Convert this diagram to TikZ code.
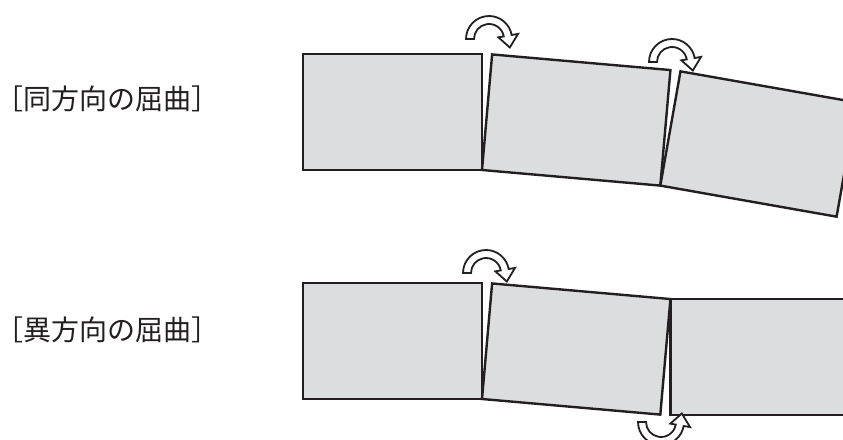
\documentclass[tikz,border=0pt]{standalone}
\usepackage{fontspec}
\newfontfamily\jpfont{Noto Sans CJK JP}
\definecolor{panelgray}{RGB}{220,221,223}
\definecolor{inkblack}{RGB}{35,31,32}

\begin{document}
\begin{tikzpicture}[
  x=1pt,y=1pt,
  panel/.style={draw=inkblack,fill=panelgray,line width=2.4pt,minimum width=179pt,minimum height=116pt,inner sep=0pt,outer sep=0pt},
  caption/.style={font=\jpfont\fontsize{28}{34}\selectfont,text=inkblack,inner sep=0pt},
  bendarrow/.pic={
    \filldraw[draw=inkblack,fill=white,line width=1.8pt]
      (-23,0) arc[start angle=180,end angle=10,radius=23] -- (29.05,5.1) -- (20.8,-8.5)
      -- (9.36,1.65) -- (14.77,2.6) arc[start angle=10,end angle=180,radius=15] -- cycle;
  }
]
  \useasboundingbox (0,0) rectangle (843,439);
  \node[caption] (same) at (107,340) {［同方向の屈曲］};
  \node[caption] (oppo) at (107,109) {［異方向の屈曲］};
  \begin{scope}
    \clip (0,0) rectangle (843,439);
    \node[panel,anchor=south west] (t1) at (303,269) {};
    \node[panel,anchor=south west,rotate=-5] (t2) at (t1.south east) {};
    \node[panel,anchor=south west,rotate=-10] (t3) at (t2.south east) {};
    \node[panel,anchor=south west] (b1) at (303,40) {};
    \node[panel,anchor=south west,rotate=-5] (b2) at (b1.south east) {};
    \node[panel,anchor=north west] (b3) at (b2.north east) {};
    \pic at (489,400) {bendarrow};
    \pic at (672,377) {bendarrow};
    \pic at (486,166) {bendarrow};
    \pic[yscale=-1] at (661,17) {bendarrow};
  \end{scope}
\end{tikzpicture}
\end{document}
